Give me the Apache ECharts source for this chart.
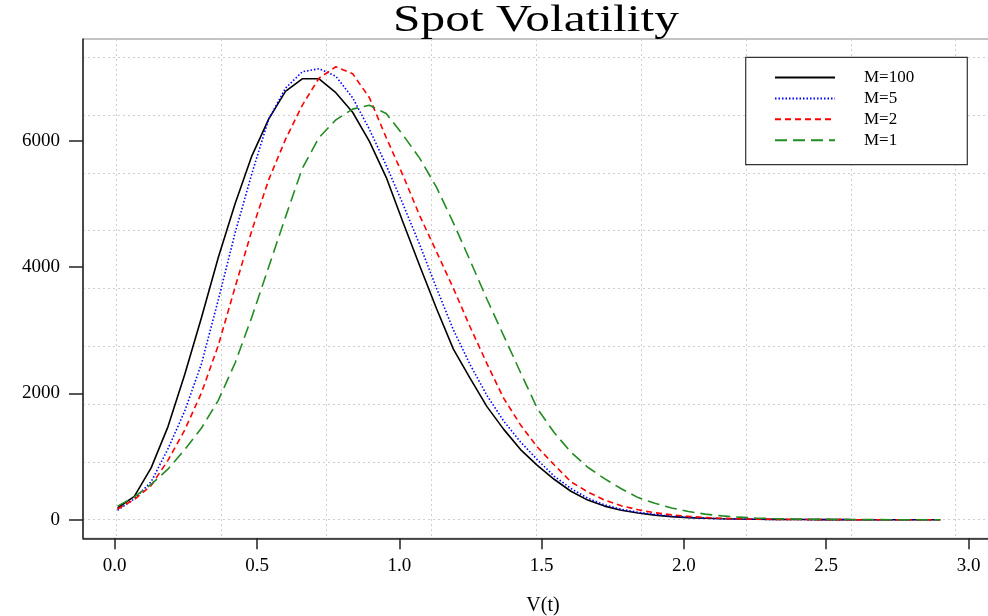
<!DOCTYPE html>
<html><head><meta charset="utf-8">
<script src="https://cdn.jsdelivr.net/npm/echarts@6/dist/echarts.min.js"></script>
<style>html,body{margin:0;padding:0;background:#fff}#c{width:988px;height:616px}</style>
</head><body><div id="c"></div>
<script>
// ---- data ----
const xs = [0.010,0.069,0.128,0.187,0.246,0.305,0.364,0.423,0.482,0.541,0.600,0.659,0.718,0.777,0.836,0.895,0.954,1.013,1.072,1.131,1.190,1.249,1.308,1.367,1.426,1.485,1.544,1.603,1.662,1.721,1.780,1.839,1.898,1.957,2.016,2.075,2.134,2.193,2.252,2.311,2.370,2.429,2.488,2.547,2.606,2.665,2.724,2.783,2.842,2.901];
const m100 = [185,370,820,1470,2300,3200,4150,5000,5760,6340,6780,6980,6980,6760,6450,5990,5420,4710,4015,3340,2700,2237,1790,1430,1110,860,640,450,310,215,150,105,72,48,33,22,15,10,7,5,3,2,1,1,0,0,0,0,0,0];
const m5   = [150,330,600,1120,1720,2470,3480,4540,5480,6340,6830,7090,7140,7020,6680,6180,5610,4995,4350,3663,3006,2453,1967,1560,1230,950,690,495,340,235,165,118,82,54,36,24,16,11,7,5,3,2,1,1,0,0,0,0,0,0];
const m2   = [170,320,540,940,1420,2010,2760,3680,4580,5380,6020,6560,6990,7170,7060,6680,6050,5450,4810,4240,3663,3050,2470,1920,1500,1150,870,600,440,310,220,158,110,76,52,34,22,14,9,6,4,2,1,1,0,0,0,0,0,0];
const m1   = [215,360,560,800,1110,1450,1890,2480,3210,4000,4790,5560,6050,6330,6500,6560,6430,6090,5720,5260,4700,4100,3490,2910,2330,1760,1380,1070,830,650,490,350,260,185,130,88,60,40,27,18,12,8,5,3,2,1,0,0,0,0];
const seriesNames = ['M=100','M=5','M=2','M=1'];
const xTicks = [0, 0.5, 1, 1.5, 2, 2.5, 3];
const yTicks = [0, 2000, 4000, 6000];
const titleText = 'Spot Volatility';
const xName = 'V(t)';

// ---- layout ----
const FONT = '"Liberation Serif","Times New Roman",serif';
const PL = 83, PT = 39, PB = 538.3, PW = 920;
const X0 = 114.7, XS = 284.6, Y0 = 519.7, YS = 0.06317;
const xMin = (PL - X0) / XS, xMax = (PL + PW - X0) / XS;
const yMin = -(PB - Y0) / YS, yMax = (Y0 - PT) / YS;
const pair = ys => xs.map((x, i) => [x, ys[i]]);
const axisCol = '#222';
const gridLine = { color: '#cfcfcf', width: 1, type: [2, 3] };

const styles = [
  { color: '#000000', width: 1.6, type: 'solid' },
  { color: '#0000ff', width: 1.6, type: [1.5, 2] },
  { color: '#ff0000', width: 1.6, type: [6, 4] },
  { color: '#228b22', width: 1.6, type: [12, 6] }
];
const vals = [m100, m5, m2, m1];

const chart = echarts.init(document.getElementById('c'), null, { renderer: 'canvas' });
chart.setOption({
  animation: false,
  backgroundColor: '#fff',
  grid: [
    { left: PL, top: PT, width: PW, height: PB - PT, show: true, borderColor: '#888', borderWidth: 1,
      containLabel: false, outerBoundsMode: 'none' },
    { left: 116.7, top: PT, width: 839, height: PB - PT, outerBoundsMode: 'none' },
    { left: PL, top: 57.3, width: PW, height: 462.4, outerBoundsMode: 'none' }
  ],
  xAxis: [
    { gridIndex: 0, type: 'value', min: xMin, max: xMax,
      name: xName, nameLocation: 'middle', nameGap: 57,
      nameTextStyle: { fontFamily: FONT, fontSize: 20, color: '#000' },
      axisLine: { show: true, onZero: false, lineStyle: { color: axisCol, width: 1.5 } },
      axisTick: { show: true, customValues: xTicks, length: 11, lineStyle: { color: axisCol, width: 1.5 } },
      axisLabel: { customValues: xTicks, formatter: v => Number(v).toFixed(1), fontFamily: FONT, fontSize: 19, color: '#000', margin: 18 },
      splitLine: { show: false } },
    { gridIndex: 1, type: 'value', min: 0, max: 8, interval: 1,
      axisLine: { show: false }, axisTick: { show: false }, axisLabel: { show: false },
      splitLine: { show: true, lineStyle: gridLine } },
    { gridIndex: 2, type: 'value', min: 0, max: 1, show: false }
  ],
  yAxis: [
    { gridIndex: 0, type: 'value', min: yMin, max: yMax,
      axisLine: { show: true, onZero: false, lineStyle: { color: axisCol, width: 1.5 } },
      axisTick: { show: true, customValues: yTicks, length: 14, lineStyle: { color: axisCol, width: 1.5 } },
      axisLabel: { customValues: yTicks, formatter: v => String(Math.round(v)), fontFamily: FONT, fontSize: 19, color: '#000', margin: 23 },
      splitLine: { show: false } },
    { gridIndex: 1, type: 'value', min: 0, max: 1, show: false },
    { gridIndex: 2, type: 'value', min: 0, max: 8, interval: 1,
      axisLine: { show: false }, axisTick: { show: false }, axisLabel: { show: false },
      splitLine: { show: true, lineStyle: gridLine } }
  ],
  legend: {
    data: seriesNames, orient: 'vertical', left: 774, top: 69, padding: 0,
    itemWidth: 60, itemHeight: 14, itemGap: 3.9, selectedMode: false, z: 10,
    itemStyle: { color: 'transparent', borderWidth: 0, opacity: 0 },
    textStyle: { fontFamily: FONT, fontSize: 17, color: '#000', padding: [0, 0, 0, 24] }
  },
  graphic: [
    { type: 'rect', z: 5, shape: { x: 745.7, y: 57.3, width: 221.6, height: 107.4 },
      style: { fill: '#fff', stroke: '#333', lineWidth: 1.2 } },
    { type: 'text', x: 536, y: 21, scaleX: 1.3, z: 5,
      style: { text: titleText, font: '38px "Liberation Serif", serif', fill: '#000',
               textAlign: 'center', textVerticalAlign: 'middle', align: 'center', verticalAlign: 'middle' } }
  ],
  series: seriesNames.map((n, i) => ({
    name: n, type: 'line', xAxisIndex: 0, yAxisIndex: 0,
    data: pair(vals[i]), symbol: 'none', showSymbol: false, smooth: false,
    lineStyle: styles[i], itemStyle: { color: styles[i].color }, z: 2 + i * 0.01
  }))
});
</script></body></html>
